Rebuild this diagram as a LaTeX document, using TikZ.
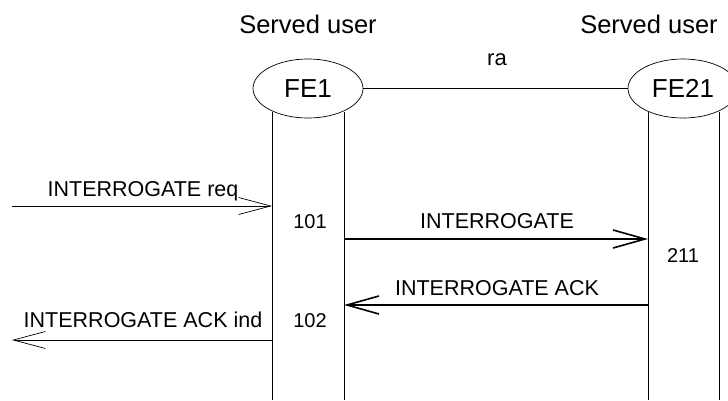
\documentclass[tikz,border=0pt]{standalone}
\usepackage{fontspec}
\setmainfont{Liberation Sans}
\usetikzlibrary{arrows.meta}
\usetikzlibrary{shapes.geometric}
\tikzset{
  fe/.style={draw, ellipse, line width=0.7pt, inner sep=0pt, minimum width=110pt, minimum height=59pt, font=\fontsize{26}{26}\selectfont},
  title/.style={anchor=base, font=\fontsize{25.5}{25.5}\selectfont},
  lbl/.style={anchor=base, font=\fontsize{21.5}{21.5}\selectfont},
  num/.style={anchor=base, font=\fontsize{20}{20}\selectfont},
  life/.style={line width=0.7pt},
  msg/.style={line width=0.7pt, -{Straight Barb[length=32pt, width=17pt, line width=0.7pt]}},
  msgbold/.style={line width=2pt, -{Straight Barb[length=32pt, width=18pt, line width=1.6pt]}},
}

\begin{document}
\begin{tikzpicture}[x=1pt, y=-1pt]
            % Frame to ensure alignment:
            \useasboundingbox (0,0) rectangle (728,400);
            % Functional entities
            \node[fe]    (fe1)  at (308, 88.5) {FE1};
            \node[fe]    (fe21) at (683, 88.5) {FE21};
            \node[title] (su1)  at (308, 33)   {Served user};
            \node[title] (su21) at (649, 33)   {Served user};
            % Relationship
            \draw[life] (fe1) -- (fe21);
            \node[lbl, font=\fontsize{22}{22}\selectfont] (ra) at (497, 65) {ra};
            % Lifelines
            \coordinate (l1a)  at (272, 400);
            \coordinate (l1b)  at (344, 400);
            \coordinate (l21a) at (648, 400);
            \coordinate (l21b) at (719, 400);
            \foreach \l in {l1a, l1b, l21a, l21b}
                \draw[life] (\l |- 0,112) -- (\l);
            % Messages
            \coordinate (req) at ( 12, 206);
            \coordinate (inv) at (344, 239);
            \coordinate (ack) at (648, 305);
            \coordinate (ind) at ( 12, 340);
            \draw[msg]     (req) -- (req -| l1a);
            \draw[msgbold] (inv) -- (inv -| l21a);
            \draw[msgbold] (ack) -- (ack -| l1b);
            \draw[msg]     (ind -| l1a) -- (ind);
            % Message labels
            \node[lbl] (reqtxt) at (143, 196) {INTERROGATE req};
            \node[lbl] (invtxt) at (497, 228) {INTERROGATE};
            \node[lbl] (acktxt) at (497, 295) {INTERROGATE ACK};
            \node[lbl] (indtxt) at (143, 327) {INTERROGATE ACK ind};
            % Action numbers
            \node[num] (n101) at (310, 228) {101};
            \node[num] (n211) at (683, 262) {211};
            \node[num] (n102) at (310, 327) {102};
\end{tikzpicture}
\end{document}
